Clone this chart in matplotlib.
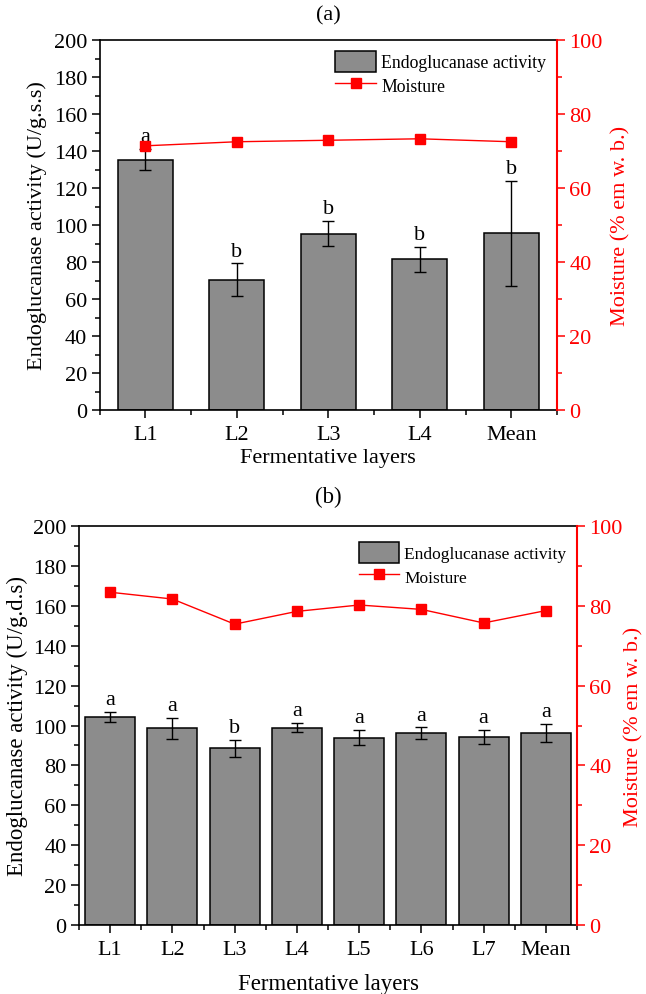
import matplotlib
matplotlib.use("Agg")
import matplotlib.pyplot as plt
from matplotlib.ticker import MultipleLocator, FixedLocator
from matplotlib.patches import Patch
from matplotlib.lines import Line2D
import numpy as np

plt.rcParams['font.family'] = ['Liberation Serif', 'DejaVu Serif']

# ---------- data ----------
cats_a = ["L1", "L2", "L3", "L4", "Mean"]
act_a = [135.4, 70.5, 95.3, 81.5, 95.6]
err_a = [5.7, 8.7, 6.9, 6.8, 28.4]
moist_a = [71.4, 72.5, 72.9, 73.3, 72.5]
let_a = ["a", "b", "b", "b", "b"]

cats_b = ["L1", "L2", "L3", "L4", "L5", "L6", "L7", "Mean"]
act_b = [104.2, 98.5, 88.5, 98.8, 93.8, 96.2, 94.2, 96.2]
err_b = [2.5, 5.4, 4.2, 2.3, 3.8, 2.8, 3.7, 4.7]
moist_b = [83.4, 81.7, 75.4, 78.6, 80.2, 79.1, 75.7, 78.8]
let_b = ["a", "a", "b", "a", "a", "a", "a", "a"]

W, H = 646, 995
fig = plt.figure(figsize=(W / 100, H / 100), dpi=100)

RED = "#ff0000"
GRAY = "#8c8c8c"


def panel(rect, cats, act, err, moist, letters, ylab, title, barw, fs_tick, fs_lab, fs_leg,
          leg_anchor, title_pad, ylpad, y2pad, xlpad, fs_y2):
    ax = fig.add_axes(rect)
    x = np.arange(len(cats))
    ax.bar(x, act, width=barw, color=GRAY, edgecolor="black", linewidth=1.1, zorder=2)
    ax.errorbar(x, act, yerr=err, fmt="none", ecolor="black", elinewidth=1.0,
                capsize=4, capthick=1.0, zorder=3)
    for xi, v, e, l in zip(x, act, err, letters):
        ax.text(xi, v + e + 1.5, l, ha="center", va="bottom", fontsize=fs_tick)
    ax.set_xlim(-0.5, len(cats) - 0.5)
    ax.set_ylim(0, 200)
    ax.set_xticks(x)
    ax.set_xticklabels(cats)
    ax.xaxis.set_minor_locator(FixedLocator(np.arange(-0.5, len(cats), 1.0)))
    ax.yaxis.set_major_locator(MultipleLocator(20))
    ax.yaxis.set_minor_locator(MultipleLocator(10))
    ax.tick_params(axis="both", which="major", direction="out", length=6, width=1.1,
                   labelsize=fs_tick, pad=3)
    ax.tick_params(axis="both", which="minor", direction="out", length=3.5, width=1.1)
    ax.tick_params(axis="x", which="major", pad=5)
    ax.set_ylabel(ylab, fontsize=fs_lab, labelpad=ylpad)
    ax.set_xlabel("Fermentative layers", fontsize=fs_lab, labelpad=xlpad)
    for s in ["left", "bottom", "top"]:
        ax.spines[s].set_linewidth(1.2)
    ax.spines["right"].set_visible(False)

    ax2 = ax.twinx()
    ax2.plot(x, moist, color=RED, linewidth=1.0, marker="s", markersize=7,
             markerfacecolor=RED, markeredgecolor=RED, zorder=4)
    ax2.set_ylim(0, 100)
    ax2.yaxis.set_major_locator(MultipleLocator(20))
    ax2.yaxis.set_minor_locator(MultipleLocator(10))
    ax2.tick_params(axis="y", which="major", direction="out", length=6, width=1.1,
                    labelsize=fs_tick, colors=RED, pad=3)
    ax2.tick_params(axis="y", which="minor", direction="out", length=3.5, width=1.1, colors=RED)
    ax2.spines["right"].set_color(RED)
    ax2.spines["right"].set_linewidth(1.5)
    for s in ["left", "bottom", "top"]:
        ax2.spines[s].set_visible(False)
    ax2.set_ylabel("Moisture (% em w. b.)", color=RED, fontsize=fs_y2, labelpad=y2pad)

    h1 = Patch(facecolor=GRAY, edgecolor="black", linewidth=1.1)
    h2 = Line2D([], [], color=RED, linewidth=1.0, marker="s", markersize=7)
    ax2.legend([h1, h2], ["Endoglucanase activity", "Moisture"], loc="upper right",
               bbox_to_anchor=leg_anchor, frameon=False, fontsize=fs_leg,
               handlelength=2.3, handleheight=1.45, handletextpad=0.3, labelspacing=0.15,
               borderaxespad=0.2)

    ax.set_title(title, fontsize=fs_lab, pad=title_pad)
    return ax, ax2


panel([99.5 / W, 1 - 411 / H, 457.5 / W, 370 / H], cats_a, act_a, err_a, moist_a, let_a,
      "Endoglucanase activity (U/g.s.s)", "(a)", 0.6, 16, 16, 12.8, (1.0, 1.0), 15, 5, 6, 3, 16)
panel([79 / W, 1 - 926 / H, 498 / W, 399 / H], cats_b, act_b, err_b, moist_b, let_b,
      "Endoglucanase activity (U/g.d.s)", "(b)", 0.8, 16, 16.5, 12.5, (1.0, 0.985), 17, 4, 1, 10, 16)

fig.savefig("out.png", dpi=100)
